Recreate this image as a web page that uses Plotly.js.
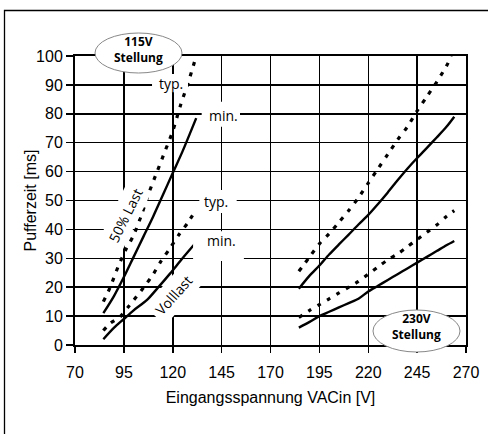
<!DOCTYPE html>
<html>
<head>
<meta charset="utf-8">
<script src="https://cdn.plot.ly/plotly-3.0.1.min.js"></script>
<style>html,body{margin:0;padding:0;background:#fff;}#chart{width:488px;height:434px;}</style>
</head>
<body>
<div id="chart"></div>
<script>
// 115V setting, 50% load
const x115HalfTyp = [84.5, 88, 92, 96, 100, 104, 108, 112, 116, 120, 124, 128, 132];
const y115HalfTyp = [15, 20, 27, 33, 38, 45, 53, 60, 67, 74, 83, 91, 100];
const x115HalfMin = [84.5, 90, 95, 100, 105, 110, 115, 120, 125, 132];
const y115HalfMin = [11, 17, 23.5, 30.5, 37.5, 44.5, 52, 59.5, 67, 78.5];
// 115V setting, full load
const x115FullTyp = [84.5, 88, 93, 97, 100, 106, 110, 114, 118.6, 123, 128, 132];
const y115FullTyp = [5, 7.5, 9.7, 13, 15.5, 20.7, 24.5, 29, 33.5, 38, 42.6, 47];
const x115FullMin = [84.5, 90, 95, 100, 106.7, 112, 118.6, 125, 132.2];
const y115FullMin = [2, 6, 9, 12, 15.5, 19.5, 24.7, 30, 35.7];
// 230V setting, 50% load
const x230HalfTyp = [184.5, 190, 195, 200, 205, 210, 215, 220, 225, 230, 235, 240, 245, 250, 255, 260, 262.5];
const y230HalfTyp = [25.5, 30.5, 35, 38.5, 42.5, 46.5, 51, 56, 61, 66, 71, 75.5, 81, 86, 91, 96.5, 100];
const x230HalfMin = [184.5, 190, 195, 200, 205, 210, 215, 220, 225, 230, 235, 240, 245, 250, 255, 260, 264];
const y230HalfMin = [19.5, 24, 27.5, 31.3, 34.8, 38.2, 41.7, 45, 48.8, 52.8, 57, 61, 64.7, 68.2, 71.8, 75.5, 79];
// 230V setting, full load
const x230FullTyp = [184.5, 190, 195, 200, 205, 210, 215, 220, 225, 230, 235, 240, 245, 250, 255, 260, 264];
const y230FullTyp = [9.5, 12, 14, 16, 18, 20, 22, 24.5, 27, 29.5, 31.5, 34, 36.5, 39, 41.5, 44.5, 46.5];
const x230FullMin = [184.5, 190, 195, 200, 205, 210, 215, 220, 225, 230, 235, 240, 245, 250, 255, 260, 264];
const y230FullMin = [6, 8, 10, 11.5, 13, 14.5, 16, 18.5, 20.5, 22.5, 24.5, 26.5, 28.5, 30.5, 32.5, 34.5, 36];

const xTicks = [70, 95, 120, 145, 170, 195, 220, 245, 270];
const yTicks = [0, 10, 20, 30, 40, 50, 60, 70, 80, 90, 100];

const L = 75, R = 22, T = 56, B = 89, W = 488, H = 434;
const pw = W - L - R, ph = H - T - B;
const px2x = p => (p - L) / pw;
const py2y = p => (H - B - p) / ph;

const solid = {color: '#000', width: 2.4, shape: 'spline', smoothing: 0.8};
const dashed = {color: '#000', width: 3.2, dash: '4px,7px', shape: 'spline', smoothing: 0.8};
function tr(x, y, line) {
  return {x: x, y: y, type: 'scatter', mode: 'lines', line: line, hoverinfo: 'skip', showlegend: false};
}
const traces = [
  tr(x115HalfTyp, y115HalfTyp, dashed),
  tr(x115HalfMin, y115HalfMin, solid),
  tr(x115FullTyp, y115FullTyp, dashed),
  tr(x115FullMin, y115FullMin, solid),
  tr(x230HalfTyp, y230HalfTyp, dashed),
  tr(x230HalfMin, y230HalfMin, solid),
  tr(x230FullTyp, y230FullTyp, dashed),
  tr(x230FullMin, y230FullMin, solid)
];

function mask(x0, x1, y0, y1) {
  return {type: 'rect', xref: 'x', yref: 'y', x0: x0, x1: x1, y0: y0, y1: y1,
    fillcolor: '#fff', line: {width: 0}, layer: 'above'};
}
function ell(p0, p1, q0, q1) {
  return {type: 'circle', xref: 'paper', yref: 'paper', x0: px2x(p0), x1: px2x(p1), y0: py2y(q1), y1: py2y(q0),
    fillcolor: '#fff', line: {color: '#888', width: 1}, layer: 'above'};
}
const shapes = [
  {type: 'rect', xref: 'paper', yref: 'paper', x0: px2x(4.5), x1: px2x(540), y0: py2y(500), y1: py2y(10.5),
    line: {color: '#000', width: 1.3}, fillcolor: 'rgba(0,0,0,0)', layer: 'below'},
  mask(109.4, 127.8, 87.5, 93.8),
  mask(134.8, 154.4, 75.5, 84.2),
  mask(133.6, 152.7, 45.7, 53.6),
  mask(130.4, 156.4, 29.1, 39.4),
  ell(95, 182, 33, 73),
  ell(373, 460, 310, 352)
];

const lf = {family: 'Open Sans, Noto Sans, sans-serif', size: 14, color: '#000'};
const bf = {family: 'Open Sans, Noto Sans, sans-serif', size: 12, color: '#000'};
const tickFont = {family: 'Liberation Sans, Arial, sans-serif', size: 16, color: '#000'};
function ann(text, px, py, font, extra) {
  return Object.assign({text: text, xref: 'paper', yref: 'paper', x: px2x(px), y: py2y(py),
    xanchor: 'center', yanchor: 'middle', showarrow: false, font: font}, extra || {});
}
const annotations = [
  ann('typ.', 170.5, 83, lf),
  ann('min.', 223, 115, lf),
  ann('typ.', 216, 201, lf),
  ann('min.', 221, 240, lf),
  ann('50% Last', 125, 215, lf, {textangle: -63.5, bgcolor: '#fff', borderpad: 3}),
  ann('Volllast', 173, 295, lf, {textangle: -48, bgcolor: '#fff', borderpad: 4}),
  ann('<b>115V<br>Stellung</b>', 138.5, 49.5, bf),
  ann('<b>230V<br>Stellung</b>', 416, 326, bf),
  ann('Pufferzeit [ms]', 30, 200.5, tickFont, {textangle: -90})
];

const layout = {
  width: W, height: H,
  margin: {l: L, r: R, t: T, b: B, pad: 0},
  paper_bgcolor: '#fff', plot_bgcolor: '#fff',
  showlegend: false,
  xaxis: {
    range: [70, 270], tickvals: xTicks, ticktext: xTicks.map(String),
    showgrid: true, gridcolor: '#000', gridwidth: 1.5,
    showline: true, linecolor: '#000', linewidth: 2, mirror: true,
    ticks: 'outside', ticklen: 6, tickwidth: 1.5, tickcolor: '#000',
    ticklabelstandoff: 6,
    zeroline: false, tickfont: tickFont, fixedrange: true,
    title: {text: 'Eingangsspannung VACin [V]', font: tickFont, standoff: 12}
  },
  yaxis: {
    range: [0, 100], tickvals: yTicks, ticktext: yTicks.map(String),
    showgrid: true, gridcolor: '#000', gridwidth: 1.5,
    showline: true, linecolor: '#000', linewidth: 2, mirror: true,
    ticks: 'outside', ticklen: 7, tickwidth: 1.5, tickcolor: '#000',
    zeroline: false, tickfont: tickFont, fixedrange: true
  },
  shapes: shapes,
  annotations: annotations
};
Plotly.newPlot('chart', traces, layout, {displayModeBar: false, staticPlot: true});
</script>
</body>
</html>
